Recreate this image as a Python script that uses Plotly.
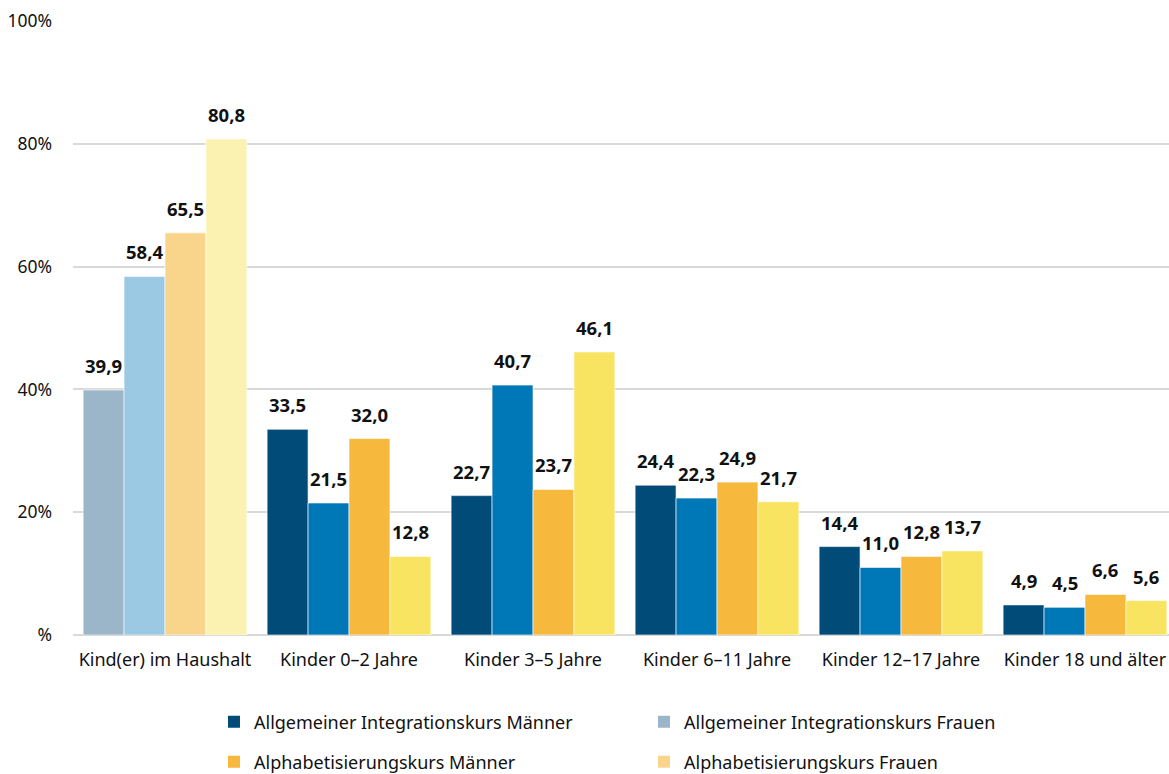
import plotly.graph_objects as go

categories = ["Kind(er) im Haushalt", "Kinder 0–2 Jahre", "Kinder 3–5 Jahre",
              "Kinder 6–11 Jahre", "Kinder 12–17 Jahre", "Kinder 18 und älter"]
series_names = ["Allgemeiner Integrationskurs Männer", "Allgemeiner Integrationskurs Frauen",
                "Alphabetisierungskurs Männer", "Alphabetisierungskurs Frauen"]
integ_maenner = [39.9, 33.5, 22.7, 24.4, 14.4, 4.9]
integ_frauen = [58.4, 21.5, 40.7, 22.3, 11.0, 4.5]
alpha_maenner = [65.5, 32.0, 23.7, 24.9, 12.8, 6.6]
alpha_frauen = [80.8, 12.8, 46.1, 21.7, 13.7, 5.6]
tick_vals = [0, 20, 40, 60, 80, 100]
tick_text = ["%", "20%", "40%", "60%", "80%", "100%"]

values = [integ_maenner, integ_frauen, alpha_maenner, alpha_frauen]
first_colors = ["#9bb6c9", "#9bc8e2", "#f8d58b", "#fbf1b1"]
main_colors = ["#004b78", "#0077b6", "#f7b93d", "#f9e461"]
legend_colors = ["#004b78", "#9bb6c9", "#f7b93d", "#f8d58b"]

FONT = "Noto Sans"
bargap = 0.11
fig = go.Figure()
for j, (name, vals) in enumerate(zip(series_names, values)):
    cols = [first_colors[j]] + [main_colors[j]] * (len(vals) - 1)
    fig.add_trace(go.Bar(x=categories, y=vals, name=name, showlegend=False,
                         marker=dict(color=cols, line=dict(width=0.6, color="white"))))

n = len(values)
w = (1 - bargap) / n
for j, vals in enumerate(values):
    for i, v in enumerate(vals):
        fig.add_annotation(x=i + (j - (n - 1) / 2) * w, y=v, xref="x", yref="y",
                           text=f"<b>{v:.1f}</b>".replace(".", ","), showarrow=False,
                           yanchor="bottom", yshift=10,
                           font=dict(family=FONT, size=18.5, color="#111111"))

# legend entries (square markers, do not take bar slots)
for j, name in enumerate(series_names):
    fig.add_trace(go.Scatter(x=[None], y=[None], name=name, mode="markers",
                             marker=dict(symbol="square", size=12, color=legend_colors[j]),
                             showlegend=True, legend="legend" if j < 2 else "legend2"))

leg_common = dict(orientation="h", xref="paper", x=0.1277, xanchor="left",
                  yref="container", yanchor="middle",
                  entrywidth=385, entrywidthmode="pixels",
                  font=dict(size=18), itemwidth=30, bgcolor="rgba(0,0,0,0)")

fig.update_layout(
    width=1177, height=774,
    barmode="group", bargap=bargap, bargroupgap=0,
    plot_bgcolor="white", paper_bgcolor="white",
    margin=dict(l=73, r=0, t=21, b=139, autoexpand=False),
    font=dict(family=FONT, size=16, color="#111111"),
    xaxis=dict(type="category", tickfont=dict(size=18), showline=False, ticks="",
               ticklabelstandoff=12, fixedrange=True),
    yaxis=dict(range=[0, 100], tickvals=tick_vals, ticktext=tick_text,
               showgrid=True, gridcolor="#d9d9d9", gridwidth=2,
               zeroline=True, zerolinecolor="#d9d9d9", zerolinewidth=2,
               tickfont=dict(size=17.5), ticks="", ticklabelstandoff=20,
               fixedrange=True),
    legend=dict(y=1 - 722 / 774, **leg_common),
    legend2=dict(y=1 - 762 / 774, **leg_common),
)
fig.write_html("out.html", config={"displayModeBar": False},
               post_script="document.body.style.margin='0';document.body.style.overflow='hidden';")
